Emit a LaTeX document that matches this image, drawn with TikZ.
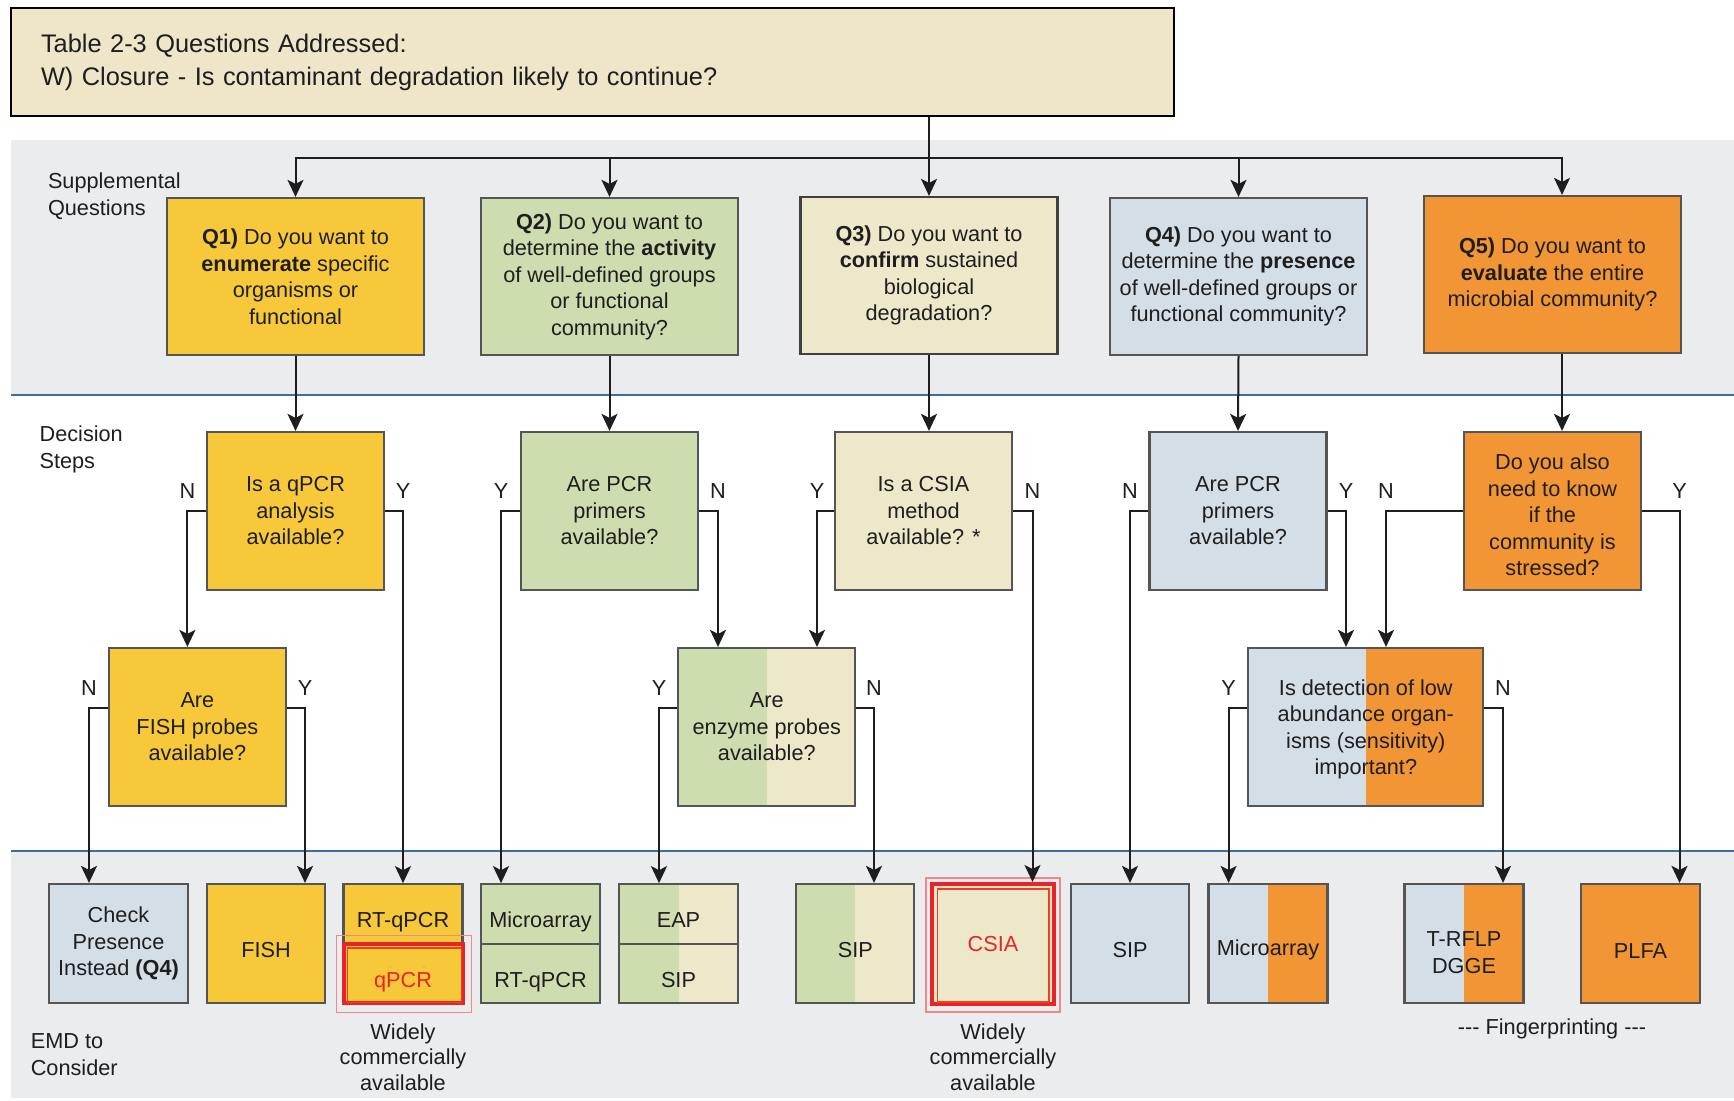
\documentclass[tikz,border=0pt]{standalone}
\usepackage{fontspec}
\setmainfont{Liberation Sans}
\usetikzlibrary{arrows.meta,calc}

\definecolor{bandgray}{HTML}{EBECEE}
\definecolor{hdrfill}{HTML}{EFE6C9}
\definecolor{cyel}{HTML}{F8C83B}
\definecolor{cgrn}{HTML}{CEDDB0}
\definecolor{cbei}{HTML}{EEE8CA}
\definecolor{cblu}{HTML}{D4DEE7}
\definecolor{corg}{HTML}{F29534}
\definecolor{rulecol}{HTML}{3B6E9D}
\definecolor{edge}{HTML}{555555}
\definecolor{ink}{HTML}{1E1E1E}
\definecolor{hot}{HTML}{E8242A}

% invisible strut that lowers a box label by enlarging its first line
\newcommand{\dropto}[1]{\rule{0pt}{#1pt}}

\begin{document}
\begin{tikzpicture}[x=1pt,y=-1pt,
  txt/.style={font=\fontsize{21.7}{26.5}\selectfont, text=ink},
  box/.style={draw=edge, line width=2.2pt, txt, align=center, inner sep=0pt},
  qbox/.style={box, minimum width=257pt, minimum height=157pt},
  dbox/.style={box, minimum width=177pt, minimum height=158pt},
  emd/.style={box, minimum width=118pt, minimum height=119pt},
  halfbox/.style={box, minimum width=119pt, minimum height=59.5pt},
  twotone/.style 2 args={fill=#2, path picture={\fill[#1] (path picture bounding box.south west) rectangle (path picture bounding box.north);}},
  wire/.style={draw=ink, line width=2pt},
  arr/.style={wire, -{Stealth[length=17pt,width=16pt,inset=4pt]}},
  yn/.style={txt, inner sep=0pt, above=12pt},
  side/.style={txt, inner sep=0pt, anchor=west, align=left},
  note/.style={txt, inner sep=0pt, align=center, font=\fontsize{21.7}{25.3}\selectfont},
]
\useasboundingbox (0,0) rectangle (1734,1100);

% background bands and separating rules
\fill[bandgray] (11,140) rectangle (1734,395);
\fill[bandgray] (11,851) rectangle (1734,1098);
\draw[rulecol, line width=2.5pt] (11,395) -- (1734,395);
\draw[rulecol, line width=2.5pt] (11,851) -- (1734,851);

% header
\node[draw=black, line width=2.5pt, fill=hdrfill, minimum width=1163pt, minimum height=108pt,
      text width=1103pt, inner xsep=30pt, align=left, text=ink,
      font=\fontsize{25.4}{33}\selectfont] (hdr) at (592.5,62)
  {Table 2-3 Questions Addressed:\\W) Closure - Is contaminant degradation likely to continue?};

% row labels
\node[side] (lblsq) at (47.8,196) {Supplemental\\Questions};
\node[side] (lblds) at (39.4,449.5) {Decision\\Steps};
\node[side] (lblemd) at (30.6,1054.7) {EMD to\\Consider};

% supplemental questions
\node[qbox, fill=cyel] (Q1) at (295.5,276.5) {\textbf{Q1)} Do you want to\\\textbf{enumerate} specific\\organisms or\\functional};
\node[qbox, fill=cgrn] (Q2) at (609.5,276.5) {\textbf{Q2)} Do you want to\\determine the \textbf{activity}\\of well-defined groups\\or functional\\community?};
\node[qbox, fill=cbei, draw=ink!85] (Q3) at (929,275.5) {\textbf{Q3)} Do you want to\\\textbf{confirm} sustained\\biological\\degradation?};
\node[qbox, fill=cblu] (Q4) at (1238.5,276.5) {\textbf{Q4)} Do you want to\\determine the \textbf{presence}\\of well-defined groups or\\functional community?};
\node[qbox, fill=corg] (Q5) at (1552.5,274.5) {\textbf{Q5)} Do you want to\\\textbf{evaluate} the entire\\microbial community?};

% decision steps
\node[dbox, fill=cyel] (D1) at (295.5,511) {Is a qPCR\\analysis\\available?};
\node[dbox, fill=cgrn] (D2) at (609.5,511) {Are PCR\\primers\\available?};
\node[dbox, fill=cbei] (D3) at (923.5,511) {Is a CSIA\\method\\available? *};
\node[dbox, fill=cblu] (D4) at (1238,511) {Are PCR\\primers\\available?};
\node[dbox, fill=corg] (D5) at (1552.5,511) {\dropto{24}Do you also\\need to know\\if the\\community is\\stressed?};

\node[dbox, fill=cyel] (E1) at (197.4,727) {Are\\FISH probes\\available?};
\node[dbox, twotone={cgrn}{cbei}] (E2) at (766.8,727) {Are\\enzyme probes\\available?};
\node[dbox, twotone={cblu}{corg}, minimum width=235pt] (E3) at (1365.8,727) {\dropto{20}Is detection of low\\abundance organ-\\isms (sensitivity)\\important?};

% methods to consider
\node[emd, fill=cblu, minimum width=139pt] (chk) at (118.5,943.5) {Check\\Presence\\Instead \textbf{(Q4)}};
\node[emd, fill=cyel] (fish) at (266,943.5) {\dropto{29}FISH};
\node[halfbox, fill=cyel] (rtq) at (403,914) {\dropto{31.5}RT-qPCR};
\node[halfbox, fill=cyel, draw=hot, line width=4pt, text=hot] (qp) at (403,973.5) {\dropto{33}qPCR};
\node[halfbox, fill=cgrn] (mA) at (540.5,914) {\dropto{31.5}Microarray};
\node[halfbox, fill=cgrn] (mB) at (540.5,973.5) {\dropto{33}RT-qPCR};
\node[halfbox, twotone={cgrn}{cbei}] (eap) at (678.5,914) {\dropto{27}EAP};
\node[halfbox, twotone={cgrn}{cbei}] (sipa) at (678.5,973.5) {\dropto{29}SIP};
\node[emd, twotone={cgrn}{cbei}] (sipb) at (855.3,943.5) {\dropto{29}SIP};
\node[emd, fill=cbei, draw=hot, line width=4pt, text=hot, minimum width=122pt, minimum height=120pt] (cs) at (993,944) {CSIA};
\node[emd, fill=cblu] (sipc) at (1130,943.5) {\dropto{29}SIP};
\node[emd, twotone={cblu}{corg}, minimum width=119pt] (mC) at (1268,943.5) {\dropto{29}Microarray};
\node[emd, twotone={cblu}{corg}, minimum width=119pt] (tr) at (1464,943.5) {\dropto{33}T-RFLP\\DGGE};
\node[emd, fill=corg, minimum width=119pt] (plfa) at (1640.5,943.5) {\dropto{29}PLFA};

% red frames marking widely available methods
\draw[hot!55, line width=1.2pt] ($(qp.north west)+(-5,-6)$) rectangle ($(qp.south east)+(7,7)$);
\draw[hot!70!orange, line width=1.5pt] ($(qp.north west)+(6,6)$) rectangle ($(qp.south east)+(-3,-3)$);
\draw[hot!55, line width=1.2pt] ($(cs.north west)+(-4,-4)$) rectangle ($(cs.south east)+(4,6)$);
\draw[hot!70!orange, line width=1.5pt] ($(cs.north west)+(7.5,7)$) rectangle ($(cs.south east)+(-7,-4)$);

\node[note] (wa1) at (403,1057) {Widely\\commercially\\available};
\node[note] (wa2) at (993,1057) {Widely\\commercially\\available};
\node[txt, inner sep=0pt] (fp) at (1552,1029) {{-}{-}{-} Fingerprinting {-}{-}{-}};

% distribution from the header to the questions
\coordinate (bar) at (929,158);
\draw[wire] (hdr.south -| bar) -- (bar);
\draw[arr] (bar) -| (Q1.north);
\draw[arr] (bar) -| (Q2.north);
\draw[arr] (bar) -- (Q3.north);
\draw[arr] (bar) -| (Q4.north);
\draw[arr] (bar) -| ([xshift=9.5pt]Q5.north);

% questions to decisions
\draw[arr] (Q1.south) -- (D1.north);
\draw[arr] (Q2.south) -- (D2.north);
\draw[arr] (Q3.south) -- (Q3.south |- D3.north);
\draw[arr] (Q4.south) -- (D4.north);
\draw[arr] ([xshift=9.5pt]Q5.south) -- ([xshift=9.5pt]D5.north);

% decision branches
\draw[arr] (D1.west) -| node[yn] (n1) {N} ([xshift=-10pt]E1.north);
\draw[arr] (D1.east) -| node[yn] (y1) {Y} (rtq.north);
\draw[arr] ([yshift=19pt]E1.west) -| node[yn] (n2) {N} ([xshift=-29.5pt]chk.north);
\draw[arr] ([yshift=19pt]E1.east) -| node[yn] (y2) {Y} ([xshift=39pt]fish.north);

\draw[arr] (D2.west) -| node[yn] (y3) {Y} ([xshift=-39.5pt]mA.north);
\draw[arr] (D2.east) -| node[yn] (n3) {N} ([xshift=-48.8pt]E2.north);
\draw[arr] (D3.west) -| node[yn] (y4) {Y} ([xshift=50.2pt]E2.north);
\draw[arr] (D3.east) -| node[yn] (n4) {N} ([xshift=39.5pt]cs.north);
\draw[arr] ([yshift=19pt]E2.west) -| node[yn] (y5) {Y} ([xshift=-19.5pt]eap.north);
\draw[arr] ([yshift=19pt]E2.east) -| node[yn] (n5) {N} ([xshift=18.7pt]sipb.north);

\draw[arr] (D4.west) -| node[yn] (n6) {N} (sipc.north);
\draw[arr] (D4.east) -| node[yn] (y6) {Y} ([xshift=-19.8pt]E3.north);
\draw[arr] (D5.west) -| node[yn] (n7) {N} ([xshift=20.2pt]E3.north);
\draw[arr] (D5.east) -| node[yn] (y7) {Y} ([xshift=39pt]plfa.north);
\draw[arr] ([yshift=19pt]E3.west) -| node[yn] (y8) {Y} ([xshift=-39.4pt]mC.north);
\draw[arr] ([yshift=19pt]E3.east) -| node[yn] (n8) {N} ([xshift=39pt]tr.north);
\end{tikzpicture}
\end{document}
